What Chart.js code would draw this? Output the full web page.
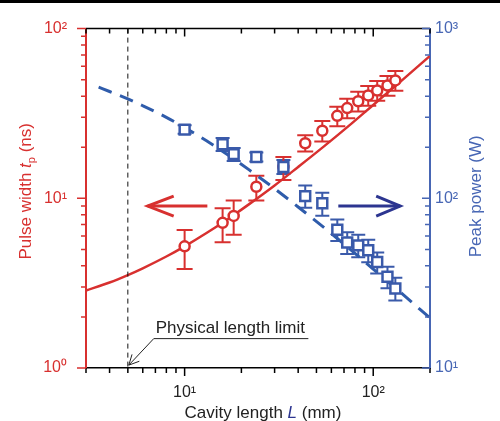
<!DOCTYPE html>
<html>
<head>
<meta charset="utf-8">
<script src="https://cdn.jsdelivr.net/npm/chart.js@4.4.0/dist/chart.umd.min.js"></script>
<style>
    body { margin: 0; background: #fff; }
    canvas { position: absolute; left: 0; top: 0; }
    #topBar { position: absolute; left: 0; top: 0; width: 500px; height: 3px; background: #000; }
</style>
</head>
<body>
<canvas id="lengthChart" width="500" height="421"></canvas>
<div id="topBar"></div>
<script>
// measured points (cavity length in mm)
const cavityLength = [10.0, 15.9, 18.2, 24.0, 33.4, 43.6, 53.7, 64.5, 72.8, 83.3, 94.1, 105, 119, 131];
const pulseWidth = [5.21, 7.17, 7.87, 11.7, 15.3, 21.1, 25.0, 30.6, 34.0, 37.3, 40.4, 43.2, 46.2, 49.5];
const pulseWidthLow = [3.83, 5.5, 6.1, 9.7, 12.8, 18.9, 21.6, 26.6, 29.6, 32.5, 35.1, 37.6, 40.2, 43.1];
const pulseWidthHigh = [6.5, 8.75, 9.7, 13.6, 17.5, 23.5, 28.5, 34.6, 38.6, 42.4, 45.9, 49.1, 52.5, 56.2];
const peakPower = [254, 208, 182, 175, 153, 103, 93.5, 65.3, 54.9, 52.8, 49.4, 42.1, 34.5, 29.4];
const peakPowerLow = [240, 190, 166, 165, 139, 88, 79, 56, 47, 45, 42, 36, 29.5, 25];
const peakPowerHigh = [269, 227, 198, 186, 168, 119, 108, 75, 63, 61, 57, 48, 39.5, 34];

// fitted curves
const fitLength = [3, 4, 5, 6, 8, 10, 13, 17, 22, 30, 40, 55, 75, 100, 140, 200];
const fitPulseWidth = [2.86, 3.19, 3.53, 3.87, 4.54, 5.21, 6.22, 7.56, 9.24, 11.9, 15.3, 20.3, 27.0, 35.5, 48.9, 69.0];
const fitPowerLength = [3.5, 4, 5, 6, 8, 10, 13, 17, 22, 30, 40, 55, 75, 100, 140, 200];
const fitPeakPower = [452, 426, 385, 351, 300, 261, 219, 180, 147, 114, 88.9, 67.0, 50.4, 38.3, 27.8, 19.7];

// tick labels
const xTickValues = [10, 100];
const xTickLabels = ["10\u00B9", "10\u00B2"];
const leftTickValues = [1, 10, 100];
const leftTickLabels = ["10\u2070", "10\u00B9", "10\u00B2"];
const rightTickValues = [10, 100, 1000];
const rightTickLabels = ["10\u00B9", "10\u00B2", "10\u00B3"];

const physicalLimit = 5;

const RED = "#d8302f";
const BLUE = "#3a5aaa";
const AXIS_BLUE = "#4766b4";
const ARROW_BLUE = "#2c3590";
const FONT = "'Liberation Sans', Arial, sans-serif";

function tickLabel(values, labels) {
    return function (value) {
        const i = values.findIndex(v => Math.abs(v - value) / v < 1e-6);
        return i >= 0 ? labels[i] : "";
    };
}

function minorValues(min, max) {
    const out = [];
    for (let e = Math.floor(Math.log10(min)); e <= Math.ceil(Math.log10(max)); e++) {
        for (let m = 1; m <= 9; m++) {
            const v = m * Math.pow(10, e);
            if (v >= min - 1e-9 && v <= max + 1e-9) out.push({ v: v, major: m === 1 });
        }
    }
    return out;
}

function arrowHead(ctx, tipX, tipY, fromX, fromY, len, half) {
    const a = Math.atan2(tipY - fromY, tipX - fromX);
    ctx.beginPath();
    ctx.moveTo(tipX - len * Math.cos(a) + half * Math.sin(a), tipY - len * Math.sin(a) - half * Math.cos(a));
    ctx.lineTo(tipX, tipY);
    ctx.lineTo(tipX - len * Math.cos(a) - half * Math.sin(a), tipY - len * Math.sin(a) + half * Math.cos(a));
    ctx.stroke();
}

const extras = {
    id: "extras",
    beforeDatasetsDraw(chart) {
        const ctx = chart.ctx;
        const xs = chart.scales.x;
        ctx.save();
        chart.data.datasets.forEach(ds => {
            if (!ds.errLow) return;
            const ys = chart.scales[ds.yAxisID];
            ctx.strokeStyle = ds.borderColor;
            ctx.lineWidth = 2;
            ds.data.forEach((p, j) => {
                const px = xs.getPixelForValue(p.x);
                const yl = ys.getPixelForValue(ds.errLow[j]);
                const yh = ys.getPixelForValue(ds.errHigh[j]);
                const w = ds.capWidth / 2;
                ctx.beginPath();
                ctx.moveTo(px, yl); ctx.lineTo(px, yh);
                ctx.moveTo(px - w, yl); ctx.lineTo(px + w, yl);
                ctx.moveTo(px - w, yh); ctx.lineTo(px + w, yh);
                ctx.stroke();
            });
        });
        ctx.restore();
    },
    afterDraw(chart) {
        const ctx = chart.ctx;
        const ca = chart.chartArea;
        const xs = chart.scales.x, ys = chart.scales.y, ys2 = chart.scales.y2;
        ctx.save();

        // frame top + tick marks
        ctx.lineWidth = 1.5;
        ctx.strokeStyle = "#000";
        ctx.beginPath();
        ctx.moveTo(ca.left, ca.top); ctx.lineTo(ca.right, ca.top);
        minorValues(3, 200).forEach(t => {
            const px = xs.getPixelForValue(t.v);
            const len = t.major ? 8 : 5;
            ctx.moveTo(px, ca.bottom); ctx.lineTo(px, ca.bottom + len);
            ctx.moveTo(px, ca.top); ctx.lineTo(px, ca.top + len);
        });
        ctx.stroke();

        ctx.strokeStyle = RED;
        ctx.beginPath();
        minorValues(1, 100).forEach(t => {
            const py = ys.getPixelForValue(t.v);
            ctx.moveTo(ca.left, py); ctx.lineTo(ca.left - (t.major ? 9 : 5), py);
        });
        ctx.stroke();

        ctx.strokeStyle = AXIS_BLUE;
        ctx.beginPath();
        minorValues(10, 1000).forEach(t => {
            const py = ys2.getPixelForValue(t.v);
            ctx.moveTo(ca.right, py); ctx.lineTo(ca.right - (t.major ? 8 : 5), py);
        });
        ctx.stroke();

        // physical length limit
        const lx = xs.getPixelForValue(physicalLimit);
        ctx.strokeStyle = "#111";
        ctx.lineWidth = 1;
        ctx.setLineDash([5, 4]);
        ctx.beginPath();
        ctx.moveTo(lx, ca.top); ctx.lineTo(lx, ca.bottom);
        ctx.stroke();
        ctx.setLineDash([]);

        // direction arrows
        ctx.lineWidth = 3;
        ctx.strokeStyle = RED;
        let ay = ys.getPixelForValue(9.0);
        let x1 = xs.getPixelForValue(13.2), x2 = xs.getPixelForValue(6.37);
        ctx.beginPath(); ctx.moveTo(x1, ay); ctx.lineTo(x2, ay); ctx.stroke();
        arrowHead(ctx, x2, ay, x1, ay, 26, 10);

        ctx.strokeStyle = ARROW_BLUE;
        ay = ys2.getPixelForValue(90);
        x1 = xs.getPixelForValue(65.3); x2 = xs.getPixelForValue(139);
        ctx.beginPath(); ctx.moveTo(x1, ay); ctx.lineTo(x2, ay); ctx.stroke();
        arrowHead(ctx, x2, ay, x1, ay, 24, 10);

        // annotation
        ctx.fillStyle = "#222";
        ctx.font = "17px " + FONT;
        ctx.textBaseline = "alphabetic";
        ctx.textAlign = "left";
        ctx.fillText("Physical length limit", xs.getPixelForValue(7.03), ys.getPixelForValue(1.615));
        ctx.strokeStyle = "#222";
        ctx.lineWidth = 1;
        const uy = ys.getPixelForValue(1.49);
        const ux1 = xs.getPixelForValue(45.3), ux2 = xs.getPixelForValue(6.86);
        const tipX = xs.getPixelForValue(5.06), tipY = ys.getPixelForValue(1.04);
        ctx.beginPath();
        ctx.moveTo(ux1, uy); ctx.lineTo(ux2, uy); ctx.lineTo(tipX, tipY);
        ctx.stroke();
        arrowHead(ctx, tipX, tipY, ux2, uy, 10, 5);

        // axis titles
        drawTitle(ctx, 31, (ca.top + ca.bottom) / 2 - 7, -Math.PI / 2, [
            { t: "Pulse width ", c: RED },
            { t: "t", c: RED, italic: true },
            { t: "p", c: RED, sub: true },
            { t: " (ns)", c: RED }
        ]);
        drawTitle(ctx, 481, (ca.top + ca.bottom) / 2 - 2, -Math.PI / 2, [
            { t: "Peak power (W)", c: AXIS_BLUE }
        ]);
        drawTitle(ctx, 263, 418, 0, [
            { t: "Cavity length ", c: "#222" },
            { t: "L", c: ARROW_BLUE, italic: true },
            { t: " (mm)", c: "#222" }
        ]);
        ctx.restore();
    }
};

function drawTitle(ctx, cx, cy, angle, parts) {
    const fontOf = p => (p.italic ? "italic " : "") + (p.sub ? "11px " : "17px ") + FONT;
    let total = 0;
    parts.forEach(p => { ctx.font = fontOf(p); p.w = ctx.measureText(p.t).width; total += p.w; });
    ctx.save();
    ctx.translate(cx, cy);
    ctx.rotate(angle);
    ctx.textAlign = "left";
    ctx.textBaseline = "alphabetic";
    let x = -total / 2;
    parts.forEach(p => {
        ctx.font = fontOf(p);
        ctx.fillStyle = p.c;
        ctx.fillText(p.t, x, p.sub ? 4 : 0);
        x += p.w;
    });
    ctx.restore();
}

const toPoints = (xs, ys) => xs.map((x, i) => ({ x: x, y: ys[i] }));

new Chart(document.querySelector("#lengthChart"), {
    type: "scatter",
    data: {
        datasets: [
            {
                data: toPoints(cavityLength, peakPower),
                yAxisID: "y2",
                errLow: peakPowerLow,
                errHigh: peakPowerHigh,
                capWidth: 14,
                pointStyle: "rect",
                pointRadius: 7,
                borderWidth: 2.5,
                borderColor: BLUE,
                backgroundColor: "#fff",
                order: 1
            },
            {
                data: toPoints(cavityLength, pulseWidth),
                yAxisID: "y",
                errLow: pulseWidthLow,
                errHigh: pulseWidthHigh,
                capWidth: 16,
                pointStyle: "circle",
                pointRadius: 5,
                borderWidth: 2.5,
                borderColor: RED,
                backgroundColor: "#fff",
                order: 2
            },
            {
                data: toPoints(fitLength, fitPulseWidth),
                yAxisID: "y",
                showLine: true,
                pointRadius: 0,
                borderColor: RED,
                borderWidth: 2.5,
                cubicInterpolationMode: "monotone",
                order: 3
            },
            {
                data: toPoints(fitPowerLength, fitPeakPower),
                yAxisID: "y2",
                showLine: true,
                pointRadius: 0,
                borderColor: "#2f5cab",
                borderWidth: 3,
                borderDash: [14, 9],
                cubicInterpolationMode: "monotone",
                order: 4
            }
        ]
    },
    options: {
        responsive: false,
        animation: false,
        layout: { padding: { top: 22, left: 0, right: 0, bottom: 0 } },
        plugins: { legend: { display: false }, tooltip: { enabled: false } },
        scales: {
            x: {
                type: "logarithmic",
                position: "bottom",
                min: 3,
                max: 200,
                grid: { drawOnChartArea: false, drawTicks: false },
                border: { color: "#000", width: 1.5 },
                ticks: {
                    autoSkip: false,
                    maxRotation: 0,
                    padding: 15,
                    color: "#222",
                    font: { size: 16, family: FONT },
                    callback: tickLabel(xTickValues, xTickLabels)
                },
                afterFit: scale => { scale.height = 53; }
            },
            y: {
                type: "logarithmic",
                position: "left",
                min: 1,
                max: 100,
                grid: { drawOnChartArea: false, drawTicks: false },
                border: { color: RED, width: 2 },
                ticks: {
                    autoSkip: false,
                    padding: 19,
                    color: RED,
                    font: { size: 16, family: FONT },
                    callback: tickLabel(leftTickValues, leftTickLabels)
                },
                afterFit: scale => { scale.width = 86; }
            },
            y2: {
                type: "logarithmic",
                position: "right",
                min: 10,
                max: 1000,
                grid: { drawOnChartArea: false, drawTicks: false },
                border: { color: AXIS_BLUE, width: 2 },
                ticks: {
                    autoSkip: false,
                    padding: 5,
                    color: AXIS_BLUE,
                    font: { size: 16, family: FONT },
                    callback: tickLabel(rightTickValues, rightTickLabels)
                },
                afterFit: scale => { scale.width = 70; }
            }
        }
    },
    plugins: [extras]
});
</script>
</body>
</html>
